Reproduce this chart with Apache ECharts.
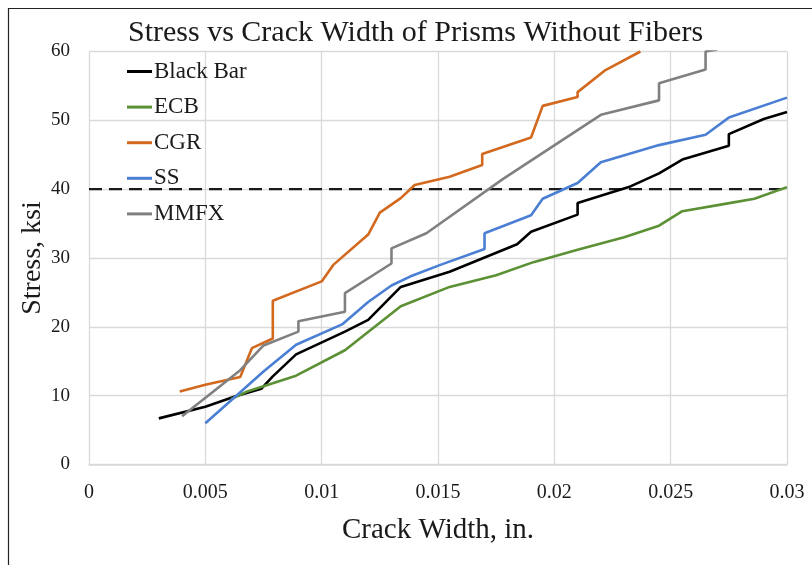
<!DOCTYPE html>
<html><head><meta charset="utf-8">
<script src="https://cdn.jsdelivr.net/npm/echarts@6/dist/echarts.min.js"></script>
<style>html,body{margin:0;padding:0;background:#fff}#c{width:812px;height:565px}</style>
</head><body><div id="c"></div>
<script>
const seriesNames = ['Black Bar', 'ECB', 'CGR', 'SS', 'MMFX'];
const xTicks = [0, 0.005, 0.01, 0.015, 0.02, 0.025, 0.03];
const yTicks = [0, 10, 20, 30, 40, 50, 60];
const thresholdStress = 40;
const blackBar = [[0.003,6.7],[0.005,8.4],[0.0063,9.9],[0.0074,11.0],[0.0079,12.8],[0.0089,16.0],[0.011,19.3],[0.012,21.0],[0.0134,25.8],[0.0155,28.0],[0.0184,32.0],[0.019,33.8],[0.021,36.3],[0.021,38.0],[0.0232,40.3],[0.0245,42.3],[0.0255,44.3],[0.0275,46.3],[0.0275,48.0],[0.029,50.2],[0.03,51.2]];
const ecb = [[0.0061,9.5],[0.0068,10.6],[0.0079,11.8],[0.0089,12.9],[0.011,16.6],[0.0134,23.0],[0.0155,25.8],[0.0175,27.5],[0.0191,29.4],[0.021,31.2],[0.023,33.0],[0.0245,34.7],[0.0255,36.8],[0.0274,37.9],[0.0286,38.6],[0.03,40.3]];
const cgr = [[0.0039,10.6],[0.005,11.6],[0.0065,12.7],[0.007,16.9],[0.0079,18.3],[0.0079,23.8],[0.01,26.6],[0.0105,29.0],[0.012,33.4],[0.0125,36.6],[0.0134,38.7],[0.014,40.6],[0.0155,41.8],[0.0169,43.5],[0.0169,45.1],[0.019,47.5],[0.0195,52.1],[0.021,53.4],[0.021,54.1],[0.0222,57.3],[0.0237,60.0]];
const ss = [[0.005,6.0],[0.0058,8.4],[0.0075,13.5],[0.0089,17.4],[0.0109,20.4],[0.012,23.6],[0.013,26.0],[0.0138,27.3],[0.0151,29.0],[0.017,31.3],[0.017,33.6],[0.019,36.2],[0.0195,38.6],[0.021,40.9],[0.022,43.9],[0.0245,46.4],[0.0265,47.9],[0.0275,50.4],[0.03,53.3]];
const mmfx = [[0.004,7.0],[0.0065,13.7],[0.0075,17.3],[0.009,19.3],[0.009,20.8],[0.011,22.2],[0.011,24.9],[0.013,29.2],[0.013,31.4],[0.0145,33.6],[0.0178,41.5],[0.022,50.8],[0.0245,52.9],[0.0245,55.4],[0.0265,57.4],[0.0265,60.0],[0.027,60.3]];
const colors = ['#000000', '#5b9134', '#d2691e', '#4a7fd4', '#808080'];

const font = 'Liberation Serif';
const chart = echarts.init(document.getElementById('c'));
const dataSets = [blackBar, ecb, cgr, ss, mmfx];
const series = seriesNames.map((n, i) => ({
  name: n, type: 'line', data: dataSets[i], showSymbol: false, symbol: 'none',
  lineStyle: { color: colors[i], width: 2.6 }, itemStyle: { color: colors[i] },
  clip: true, z: 3
}));
series.push({
  name: 'threshold', type: 'line', symbol: 'none', silent: true,
  data: [[xTicks[0], thresholdStress], [xTicks[xTicks.length - 1], thresholdStress]],
  lineStyle: { color: '#1a1a1a', width: 2.2, type: [13, 7] }, z: 2
});
chart.setOption({
  animation: false,
  backgroundColor: '#fff',
  graphic: [{ type: 'rect', shape: { x: 8.5, y: 8.5, width: 830, height: 580 }, style: { fill: 'none', stroke: '#222', lineWidth: 1.2 }, silent: true }],
  title: { text: 'Stress vs Crack Width of Prisms Without Fibers', left: 128, top: 18, padding: 0,
    textStyle: { fontFamily: font, fontSize: 30, fontWeight: 'normal', color: '#1a1a1a' } },
  legend: { data: seriesNames, orient: 'vertical', left: 127, top: 60, padding: 0, itemWidth: 25, itemHeight: 3, itemGap: 12.6,
    icon: 'rect', textStyle: { fontFamily: font, fontSize: 23, color: '#1a1a1a', lineHeight: 23, padding: [0, 0, 0, -3] } },
  grid: { left: 89, right: 25, top: 51.5, bottom: 100.5, containLabel: false },
  xAxis: { type: 'value', min: xTicks[0], max: xTicks[xTicks.length - 1], interval: 0.005,
    name: 'Crack Width, in.', nameLocation: 'middle', nameGap: 51,
    nameTextStyle: { fontFamily: font, fontSize: 29, color: '#1a1a1a' },
    axisLine: { lineStyle: { color: '#d9d9d9', width: 1.5 } }, axisTick: { show: false },
    axisLabel: { fontFamily: font, fontSize: 20, color: '#1a1a1a', margin: 18,
      formatter: v => String(parseFloat(v.toFixed(3))) },
    splitLine: { lineStyle: { color: '#d9d9d9', width: 1.3 } } },
  yAxis: { type: 'value', min: yTicks[0], max: yTicks[yTicks.length - 1], interval: 10,
    name: 'Stress, ksi', nameLocation: 'middle', nameGap: 42, nameMoveOverlap: false,
    nameTextStyle: { fontFamily: font, fontSize: 28, color: '#1a1a1a' },
    axisLine: { show: false }, axisTick: { show: false },
    axisLabel: { fontFamily: font, fontSize: 19, color: '#1a1a1a', margin: 19 },
    splitLine: { lineStyle: { color: '#d9d9d9', width: 1.3 } } },
  series: series
});
</script></body></html>
